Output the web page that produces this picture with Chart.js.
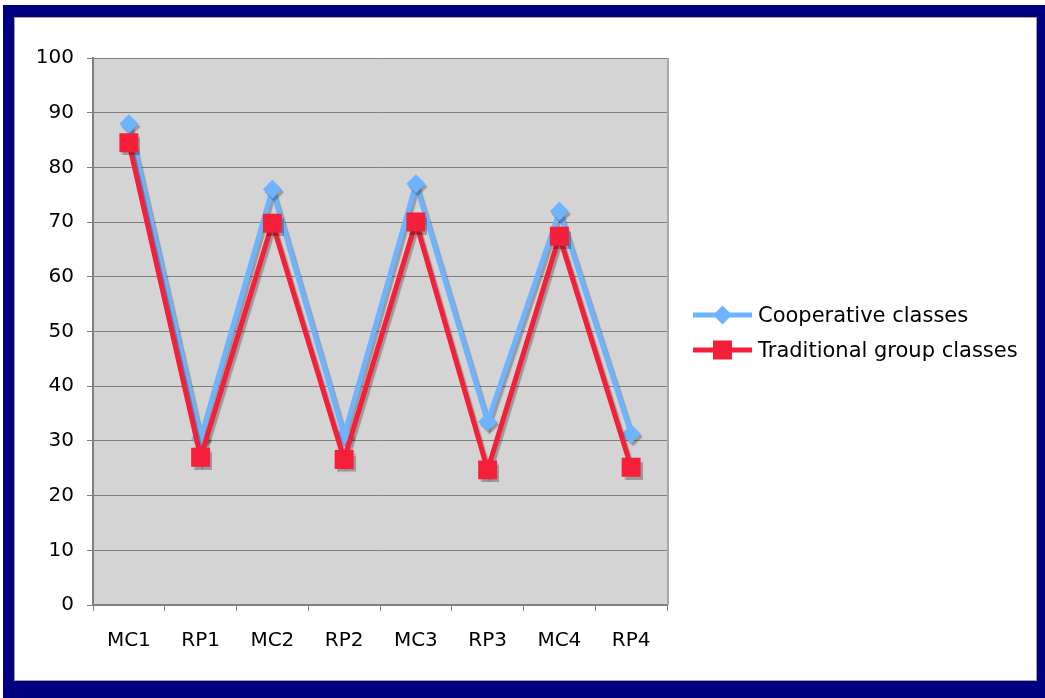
<!DOCTYPE html>
<html><head><meta charset="utf-8">
<script src="https://cdn.jsdelivr.net/npm/chart.js@4.4.1/dist/chart.umd.min.js"></script>
<style>
html,body{margin:0;padding:0;background:#fff;width:1045px;height:698px;overflow:hidden}
#frame{position:absolute;left:3px;top:5px;width:1042px;height:693px;background:#000080}
#inner{position:absolute;left:14px;top:17px;width:1021px;height:662px;background:#fff;border:1px solid #a0a0a0}
canvas{position:absolute;left:0;top:0}
</style></head>
<body>
<div id="frame"></div>
<div id="inner"><canvas id="c" width="1021" height="662"></canvas></div>
<script>
const categories = ['MC1','RP1','MC2','RP2','MC3','RP3','MC4','RP4'];
const cooperative = [88, 30.5, 76, 31, 77, 33.5, 72, 31.3];
const traditional = [84.5, 27, 69.8, 26.6, 70, 24.7, 67.4, 25.2];
const seriesNames = ['Cooperative classes', 'Traditional group classes'];
const yTicks = [0,10,20,30,40,50,60,70,80,90,100];

const BLUE = '#6eb3ff';
const RED = '#f61f3a';
const FONT = 'DejaVu Sans, Verdana, sans-serif';

const bgPlugin = {
  id: 'bg',
  beforeDraw(chart) {
    const {ctx, chartArea: a} = chart;
    ctx.save();
    ctx.fillStyle = '#d4d4d4';
    ctx.fillRect(a.left, a.top, a.right - a.left, a.bottom - a.top);
    ctx.restore();
  },
  beforeDatasetsDraw(chart) {
    const {ctx, chartArea: a} = chart;
    ctx.save();
    ctx.strokeStyle = '#a8a8a8';
    ctx.lineWidth = 2;
    ctx.beginPath();
    ctx.moveTo(a.right + 1, a.top);
    ctx.lineTo(a.right + 1, a.bottom);
    ctx.stroke();
    ctx.restore();
    ctx.save();
    ctx.shadowColor = 'rgba(0,0,0,0.28)';
    ctx.shadowOffsetX = 2;
    ctx.shadowOffsetY = 3;
    ctx.shadowBlur = 1;
  },
  afterDatasetsDraw(chart) {
    chart.ctx.restore();
  },
  afterDraw(chart) {
    const {ctx, chartArea: a} = chart;
    const x0 = a.right + 26, x1 = a.right + 85, xm = (x0 + x1) / 2;
    const ys = [297, 332];
    ctx.save();
    ctx.strokeStyle = BLUE; ctx.lineWidth = 5;
    ctx.beginPath(); ctx.moveTo(x0, ys[0]); ctx.lineTo(x1, ys[0]); ctx.stroke();
    ctx.fillStyle = BLUE;
    ctx.beginPath();
    ctx.moveTo(xm - 9.5, ys[0]); ctx.lineTo(xm, ys[0] - 9.5); ctx.lineTo(xm + 9.5, ys[0]); ctx.lineTo(xm, ys[0] + 9.5);
    ctx.closePath(); ctx.fill();
    ctx.strokeStyle = RED;
    ctx.beginPath(); ctx.moveTo(x0, ys[1]); ctx.lineTo(x1, ys[1]); ctx.stroke();
    ctx.fillStyle = RED;
    ctx.fillRect(xm - 9.5, ys[1] - 9.5, 19, 19);
    ctx.fillStyle = '#000';
    ctx.font = '21px ' + FONT;
    ctx.textBaseline = 'middle';
    ctx.textAlign = 'left';
    ctx.fillText(seriesNames[0], a.right + 91, ys[0] + 2);
    ctx.fillText(seriesNames[1], a.right + 91, ys[1] + 2);
    ctx.restore();
  }
};

new Chart(document.getElementById('c'), {
  type: 'line',
  data: {
    labels: categories,
    datasets: [
      {
        label: seriesNames[0], data: cooperative, order: 1,
        borderColor: BLUE, backgroundColor: BLUE, borderWidth: 5,
        pointStyle: 'rectRot', pointRadius: 9.5, pointBorderWidth: 0, pointHoverRadius: 9.5,
        tension: 0, fill: false
      },
      {
        label: seriesNames[1], data: traditional, order: 0,
        borderColor: RED, backgroundColor: RED, borderWidth: 5,
        pointStyle: 'rect', pointRadius: 13.4, pointBorderWidth: 0, pointHoverRadius: 13.4,
        tension: 0, fill: false
      }
    ]
  },
  options: {
    responsive: false,
    animation: false,
    layout: { padding: { left: 0, right: 369, top: 40, bottom: 0 } },
    plugins: { legend: { display: false }, tooltip: { enabled: false } },
    scales: {
      x: {
        type: 'category',
        offset: true,
        grid: { display: true, drawOnChartArea: false, drawTicks: true, tickLength: 6, color: '#808080', offset: true },
        border: { display: true, color: '#808080', width: 2 },
        ticks: { color: '#000', font: { family: FONT, size: 20 }, padding: 18, maxRotation: 0 },
        afterFit(s) { s.height = 75; }
      },
      y: {
        min: 0, max: 100,
        afterBuildTicks(s) { s.ticks = yTicks.map(v => ({ value: v })); },
        grid: { display: true, color: '#808080', lineWidth: 1, tickLength: 6, drawTicks: true },
        border: { display: true, color: '#808080', width: 2 },
        ticks: { color: '#000', font: { family: FONT, size: 20 }, padding: 13 },
        afterFit(s) { s.width = 78; }
      }
    }
  },
  plugins: [bgPlugin]
});
</script>
</body></html>
